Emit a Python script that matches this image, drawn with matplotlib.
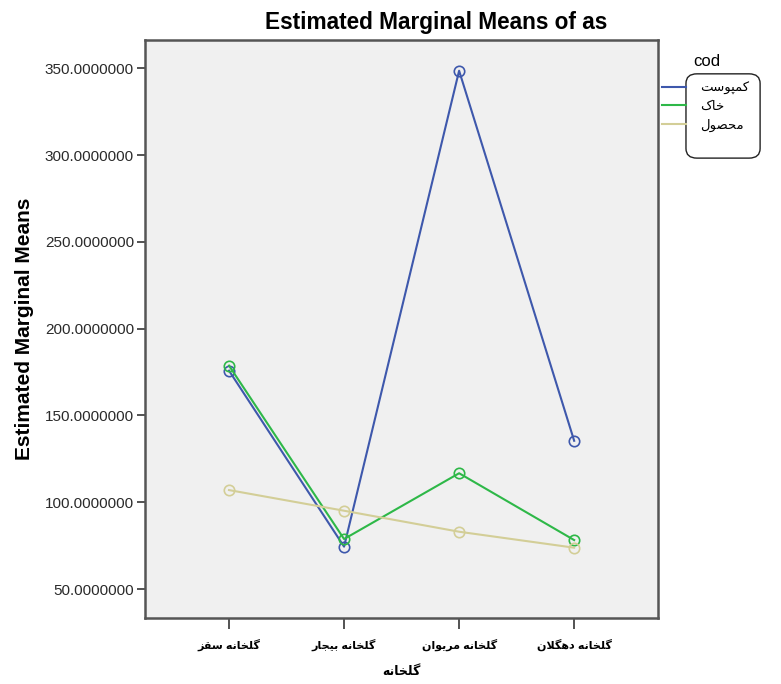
import numpy as np
import matplotlib
matplotlib.use('Agg')
import matplotlib.pyplot as plt
from matplotlib.lines import Line2D
from matplotlib.patches import FancyBboxPatch

plt.rcParams['font.family'] = ['Liberation Sans', 'DejaVu Sans']

# data
greenhouses = ['گلخانه سقز', 'گلخانه بیجار', 'گلخانه مریوان', 'گلخانه دهگلان']
series_names = ['کمپوست', 'خاک', 'محصول']
compost = [175.8, 74.4, 348.6, 135.4]
soil = [178.7, 78.8, 116.7, 78.2]
product = [107.0, 95.1, 83.0, 73.8]
yticks = [50, 100, 150, 200, 250, 300, 350]
colors = ['#3E58AC', '#2EB848', '#D3CE97']


#-=-=-=-
# minimal persian shaping (matplotlib has no bidi / joining)
#-=-=-=-

# isolated, final, initial, medial ; two forms -> joins only to the right
FORMS = {
    'ا': '\uFE8D\uFE8E', 'ب': '\uFE8F\uFE90\uFE91\uFE92', 'ت': '\uFE95\uFE96\uFE97\uFE98',
    'ج': '\uFE9D\uFE9E\uFE9F\uFEA0', 'ح': '\uFEA1\uFEA2\uFEA3\uFEA4', 'خ': '\uFEA5\uFEA6\uFEA7\uFEA8',
    'د': '\uFEA9\uFEAA', 'ر': '\uFEAD\uFEAE', 'ز': '\uFEAF\uFEB0',
    'س': '\uFEB1\uFEB2\uFEB3\uFEB4', 'ص': '\uFEB9\uFEBA\uFEBB\uFEBC', 'ق': '\uFED5\uFED6\uFED7\uFED8',
    'ل': '\uFEDD\uFEDE\uFEDF\uFEE0', 'م': '\uFEE1\uFEE2\uFEE3\uFEE4', 'ن': '\uFEE5\uFEE6\uFEE7\uFEE8',
    'ه': '\uFEE9\uFEEA\uFEEB\uFEEC', 'و': '\uFEED\uFEEE', 'پ': '\uFB56\uFB57\uFB58\uFB59',
    'ک': '\uFB8E\uFB8F\uFB90\uFB91', 'گ': '\uFB92\uFB93\uFB94\uFB95', 'ی': '\uFBFC\uFBFD\uFBFE\uFBFF',
}


def shape(s):
    chars = list(s)
    out = []
    i = 0
    while i < len(chars):
        c = chars[i]
        prev = chars[i - 1] if i > 0 else ''
        joins_prev = prev in FORMS and len(FORMS[prev]) == 4
        if c == 'ل' and i + 1 < len(chars) and chars[i + 1] == 'ا':
            out.append('\uFEFC' if joins_prev else '\uFEFB')
            i += 2
            continue
        if c not in FORMS:
            out.append(c)
            i += 1
            continue
        f = FORMS[c]
        nxt = chars[i + 1] if i + 1 < len(chars) else ''
        joins_next = len(f) == 4 and nxt in FORMS
        if joins_prev and joins_next:
            out.append(f[3])
        elif joins_prev:
            out.append(f[1])
        elif joins_next:
            out.append(f[2])
        else:
            out.append(f[0])
        i += 1
    return ''.join(out[::-1])


fig = plt.figure(figsize=(7.81, 6.84), dpi=100)
ax = fig.add_axes([0.1857, 0.0965, 0.657, 0.845])
ax.set_facecolor('#F0F0F0')

x = np.arange(1, len(greenhouses) + 1)
for vals, col in zip([compost, soil, product], colors):
    ax.plot(x, vals, color=col, lw=1.5, marker='o', ms=7.5, mfc='none', mec=col, mew=1.2)

ax.set_xlim(0.27, 4.73)
ax.set_ylim(33.3, 366.3)
ax.set_yticks(yticks)
ax.set_yticklabels(['%.7f' % v for v in yticks], fontsize=11, color='#2a2a2a')
ax.set_xticks(x)
ax.set_xticklabels([shape(g) for g in greenhouses], fontsize=8, fontweight='bold')
ax.tick_params(axis='y', length=6, width=1.3, color='#444444', pad=2)
ax.tick_params(axis='x', length=8, width=1.3, color='#444444', pad=7)
for side in ['left', 'bottom', 'right', 'top']:
    ax.spines[side].set_color('#555555')
    ax.spines[side].set_linewidth(1.8)

ax.set_ylabel('Estimated Marginal Means', fontsize=15, fontweight='bold', labelpad=8)
ax.set_xlabel(shape('گلخانه'), fontsize=9, fontweight='bold', labelpad=11)
fig.text(0.558, 0.967, 'Estimated Marginal Means of as', fontsize=16.3, fontweight='bold',
         ha='center', va='center')

# spss style legend: lines outside a rounded box that holds the labels
handles = [Line2D([], [], color=c, lw=1.5) for c in colors]
leg = fig.legend(handles, [shape(n) for n in series_names],
                 loc='center left', bbox_to_anchor=(0.8476, 0.8436), frameon=False,
                 borderaxespad=0, borderpad=0,
                 handlelength=1.82, handletextpad=1.06, labelspacing=0.45,
                 fontsize=9.5)
fig.text(693 / 781, 1 - 61 / 684, 'cod', fontsize=12, ha='left', va='center')
fig.canvas.draw()
r = fig.canvas.get_renderer()
boxes = [t.get_window_extent(r) for t in leg.get_texts()]
x0 = min(b.x0 for b in boxes) - 14
x1 = max(b.x1 for b in boxes) + 11
y0 = min(b.y0 for b in boxes) - 26
y1 = max(b.y1 for b in boxes) + 8
inv = fig.transFigure.inverted()
(fx0, fy0), (fx1, fy1) = inv.transform([(x0, y0), (x1, y1)])
fig.add_artist(FancyBboxPatch((fx0, fy0), fx1 - fx0, fy1 - fy0,
                              boxstyle='round,pad=0,rounding_size=0.014',
                              transform=fig.transFigure, fc='none', ec='#222222', lw=1.0))

fig.savefig('out.png', dpi=100)
